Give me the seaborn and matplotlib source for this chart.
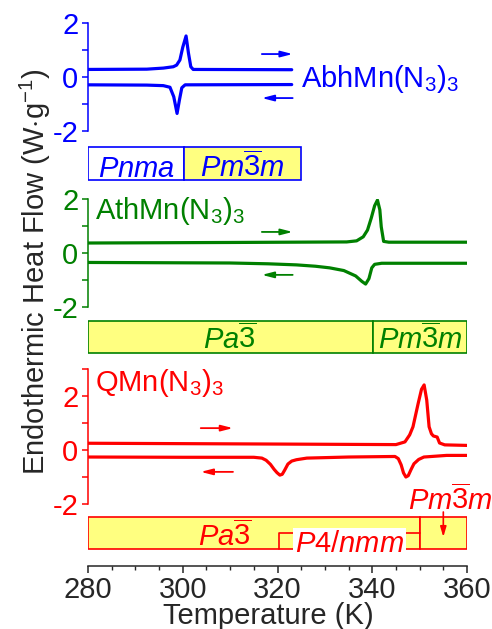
import numpy as np
import matplotlib
matplotlib.use('Agg')
import matplotlib.pyplot as plt
import seaborn as sns

sns.set_style('ticks')
plt.rcParams['font.family'] = ['Liberation Sans', 'DejaVu Sans']
plt.rcParams['axes.unicode_minus'] = False
plt.rcParams['mathtext.fontset'] = 'custom'
plt.rcParams['mathtext.rm'] = 'Liberation Sans'
plt.rcParams['mathtext.it'] = 'Liberation Sans:italic'
plt.rcParams['mathtext.bf'] = 'Liberation Sans:bold'

# ---- DSC curves (temperature in K, heat flow in W/g) ----
abh_heat_T = [280, 292.4, 295.9, 298.0, 298.7, 299.4, 300.0, 300.7, 301.2, 301.7, 302.2, 323]
abh_heat_hf = [0.28, 0.29, 0.33, 0.38, 0.44, 0.63, 1.1, 1.52, 0.89, 0.38, 0.28, 0.27]
abh_cool_T = [280, 292.4, 295.9, 297.3, 298.1, 298.8, 299.3, 299.8, 300.5, 323]
abh_cool_hf = [-0.29, -0.30, -0.32, -0.38, -0.73, -1.35, -0.85, -0.40, -0.29, -0.28]

ath_heat_T = [280, 310, 334.6, 336.7, 338.1, 339.0, 339.8, 340.5, 341.1, 341.6, 341.9, 342.4, 343.5, 360]
ath_heat_hf = [0.37, 0.39, 0.41, 0.45, 0.6, 0.85, 1.3, 1.75, 1.96, 1.6, 0.97, 0.43, 0.4, 0.4]
ath_cool_T = [280, 310, 318, 324, 328, 331, 334, 336.5, 337.8, 338.6, 339.3, 339.9, 340.5, 342, 360]
ath_cool_hf = [-0.35, -0.37, -0.4, -0.44, -0.49, -0.55, -0.65, -0.85, -1.05, -1.15, -0.95, -0.55, -0.42,
               -0.38, -0.38]

q_heat_T = [280, 320, 345, 346.9, 347.9, 348.6, 349.7, 350.4, 350.95, 351.5, 352.0, 352.5, 352.9, 353.7,
            354.2, 355.3, 360]
q_heat_hf = [0.25, 0.22, 0.2, 0.3, 0.56, 0.86, 1.73, 2.25, 2.41, 1.85, 0.86, 0.6, 0.52, 0.48, 0.26, 0.19,
             0.17]
q_cool_T = [280, 300, 315, 316.7, 317.6, 318.5, 319.3, 319.9, 320.5, 321.0, 321.5, 322.2, 323.0, 324,
            326.2, 335, 344.8, 345.5, 346.1, 346.6, 347.1, 347.6, 348.2, 348.8, 349.8, 350.9, 355.7, 360]
q_cool_hf = [-0.26, -0.27, -0.27, -0.3, -0.38, -0.53, -0.72, -0.84, -0.93, -0.9, -0.75, -0.52, -0.41,
             -0.36, -0.3, -0.26, -0.24, -0.32, -0.55, -0.85, -1.0, -0.95, -0.72, -0.51, -0.35, -0.26,
             -0.2, -0.2]

# ---- phase bars ----
PM3M = '$\\mathit{Pm\\overline{3}m}$'
PA3 = '$\\mathit{Pa\\overline{3}}$'
abh_bounds = [280, 300.3, 325]
abh_phases = ['$\\mathit{Pnma}$', PM3M]
abh_label_x = [290.2, 312.6]
ath_bounds = [280, 340.1, 360]
ath_phases = [PA3, PM3M]
ath_label_x = [310.0, 350.2]
q_bounds = [280, 350, 360]
q_phases = [PA3, '']
q_label_x = [309.0, 355.0]
q_p4_range = [320.3, 350]

names = ['AbhMn(N$_3$)$_3$', 'AthMn(N$_3$)$_3$', 'QMn(N$_3$)$_3$']

blue, green, red = '#0000FF', '#008000', '#FF0000'
yellow = '#FFFF80'
FS = 21

W, H = 492, 629
fig = plt.figure(figsize=(W / 100, H / 100), dpi=100)


def px_rect(x0, y0, x1, y1):
    return [x0 / W, 1 - y1 / H, (x1 - x0) / W, (y1 - y0) / H]


# main axes: x in K, y in pixel rows (only for placing the phase bars / labels)
ax = fig.add_axes(px_rect(88, 0, 467, 566))
ax.set_xlim(280, 360)
ax.set_ylim(566, 0)
ax.patch.set_visible(False)
for s in ['left', 'right', 'top']:
    ax.spines[s].set_visible(False)
ax.spines['bottom'].set_linewidth(1.1)
ax.set_yticks([])
ax.set_xticks(range(280, 361, 20))
ax.set_xticks(range(280, 361, 5), minor=True)
ax.tick_params(axis='x', which='major', direction='out', length=5, width=1.1, labelsize=FS, pad=2)
ax.tick_params(axis='x', which='minor', direction='out', length=3, width=1.0)
ax.set_xlabel('Temperature (K)', fontsize=FS)
ax.xaxis.set_label_coords((268 - 88) / 379, -(602 - 566) / 566)

# phase bars
bar_rows = [(abh_bounds, abh_phases, abh_label_x, ['white', yellow], blue, 163.5, 33, 177),
            (ath_bounds, ath_phases, ath_label_x, [yellow, yellow], green, 337, 32, 349),
            (q_bounds, q_phases, q_label_x, [yellow, yellow], red, 533, 32, 546)]
for bounds, phases, lab_x, fills, c, yc, hgt, base in bar_rows:
    lefts = np.array(bounds[:-1])
    widths = np.diff(bounds)
    ax.barh(yc, widths, left=lefts, height=hgt, color=fills, edgecolor=c, linewidth=1.2)
    for lab, xc in zip(phases, lab_x):
        if lab:
            ax.text(xc, base, lab, color=c, fontsize=FS, ha='center', va='baseline')

# P4/nmm inset bracket in the bottom bar
p4_mid = sum(q_p4_range) / 2
ax.plot([323.7, q_p4_range[0], q_p4_range[0]], [533, 533, 549], color=red, lw=1.2)
ax.plot([346.9, q_p4_range[1]], [533, 533], color=red, lw=1.2)
ax.text(p4_mid, 552, '$\\mathit{P4/nmm}$', color=red, fontsize=FS, ha='center', va='baseline',
        bbox=dict(facecolor='white', edgecolor='none', pad=1.5))
ax.text(356.6, 510, PM3M, color=red, fontsize=FS, ha='center', va='baseline')
ax.annotate('', xy=(355, 537), xytext=(355, 512),
            arrowprops=dict(arrowstyle='-|>,head_length=0.6,head_width=0.18', color=red, lw=1.2,
                            shrinkA=0, shrinkB=0))

# sample names
ax.text(324.9, 87, names[0], color=blue, fontsize=FS, ha='left', va='baseline')
ax.text(281.5, 219, names[1], color=green, fontsize=FS, ha='left', va='baseline')
ax.text(281.5, 391, names[2], color=red, fontsize=FS, ha='left', va='baseline')

# curve panels
panels = [((23, 131), (-2, 2), [-1, 1], blue, abh_heat_T, abh_heat_hf, abh_cool_T, abh_cool_hf,
           (316.7, 323.2), (0.85, -0.78)),
          ((199, 307), (-2, 2), [-1, 1], green, ath_heat_T, ath_heat_hf, ath_cool_T, ath_cool_hf,
           (316.7, 323.2), (0.78, -0.81)),
          ((369, 504), (-2, 3), [-1, 1, 3], red, q_heat_T, q_heat_hf, q_cool_T, q_cool_hf,
           (303.8, 310.6), (0.81, -0.81))]
for (y0, y1), ylim, minor, c, hT, hH, cT, cH, (ax0, ax1), (yu, yd) in panels:
    axc = fig.add_axes(px_rect(88, y0, 467, y1))
    axc.patch.set_visible(False)
    sns.lineplot(x=hT, y=hH, ax=axc, color=c, lw=2.3, sort=False, estimator=None)
    sns.lineplot(x=cT, y=cH, ax=axc, color=c, lw=2.3, sort=False, estimator=None)
    axc.set_xlim(280, 360)
    axc.set_ylim(*ylim)
    for s in ['right', 'top', 'bottom']:
        axc.spines[s].set_visible(False)
    axc.spines['left'].set_color(c)
    axc.spines['left'].set_linewidth(1.1)
    axc.set_xticks([])
    axc.set_yticks([-2, 0, 2])
    axc.set_yticks(minor, minor=True)
    axc.tick_params(axis='y', which='both', colors=c, direction='out', length=4, width=1.1,
                    labelsize=FS, pad=3)
    axc.set_xlabel('')
    axc.set_ylabel('')
    arrow = dict(arrowstyle='-|>,head_length=0.7,head_width=0.18', color=c, lw=1.3,
                 shrinkA=0, shrinkB=0)
    axc.annotate('', xy=(ax1, yu), xytext=(ax0, yu), arrowprops=arrow)
    axc.annotate('', xy=(ax0, yd), xytext=(ax1, yd), arrowprops=arrow)

fig.text(45 / W, 1 - 272 / H, 'Endothermic Heat Flow (W$\\cdot$g$^{-1}$)', fontsize=FS,
         rotation=90, rotation_mode='anchor', ha='center', va='baseline')

fig.savefig('out.png', dpi=100)
